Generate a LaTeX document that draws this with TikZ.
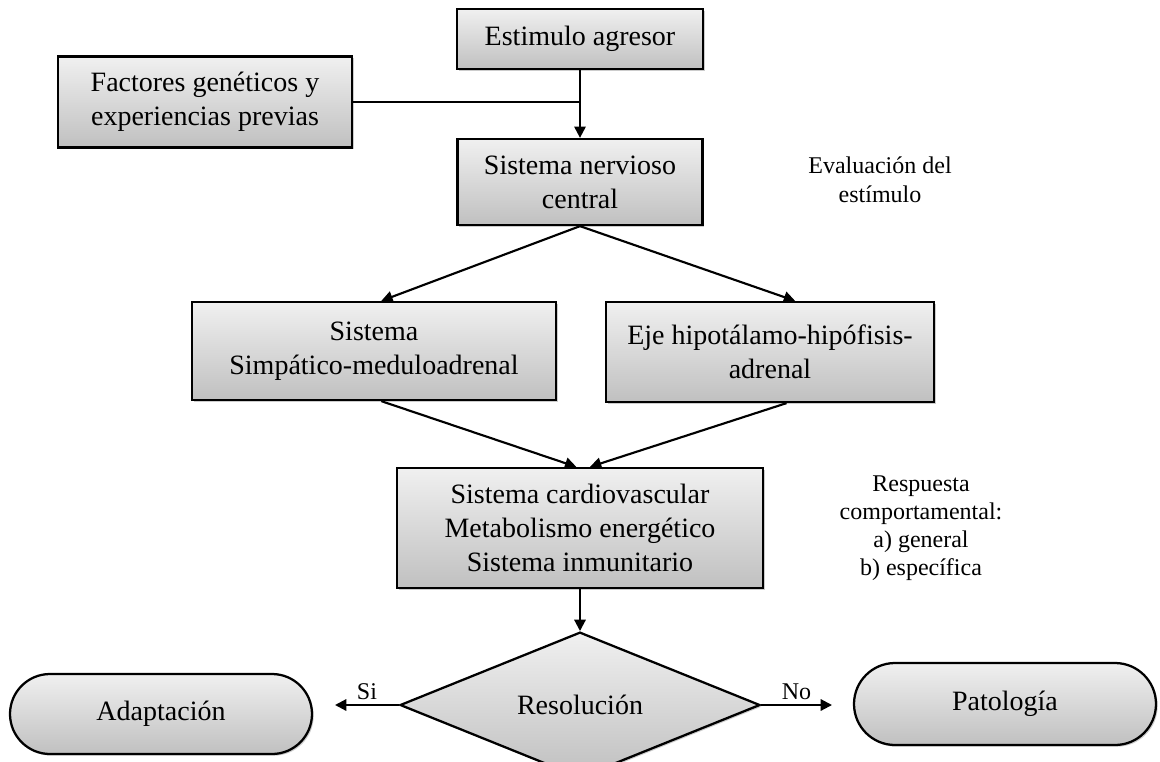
\documentclass[tikz,border=0pt]{standalone}
\usepackage{fontspec}
\setmainfont{Liberation Serif}
\usetikzlibrary{shapes.geometric,shapes.misc,arrows.meta,shadows,calc}
\definecolor{gtop}{RGB}{240,240,240}
\definecolor{gbot}{RGB}{192,192,192}
\tikzset{
  shaded/.style={draw=black, line width=1.7pt, top color=gtop, bottom color=gbot,
    drop shadow={shadow xshift=1.3pt,shadow yshift=-1.3pt,fill=black!40,opacity=0.5},
    align=center, font=\fontsize{21}{25.5}\selectfont, inner sep=0pt},
  box/.style={shaded, rectangle},
  term/.style={shaded, rounded rectangle},
  decis/.style={shaded, diamond},
  note/.style={align=center, font=\fontsize{18}{22}\selectfont, inner sep=0pt},
  lbl/.style={font=\fontsize{18}{22}\selectfont, inner sep=0pt},
  conn/.style={line width=1.6pt, draw=black},
  arr/.style={conn, -{Triangle[length=8.5pt,width=8.5pt]}}
}
\begin{document}
\begin{tikzpicture}[x=0.75pt,y=-0.75pt]
\useasboundingbox (0,0) rectangle (1160,761);

\node[box, minimum width=184.5pt, minimum height=45pt] (est) at (580,39) {Estimulo agresor};
\node[box, minimum width=220.5pt, minimum height=68.25pt] (fac) at (205,102) {Factores genéticos y\\experiencias previas};
\node[box, minimum width=183.75pt, minimum height=64.5pt] (snc) at (580,182) {Sistema nervioso\\central};
\node[note] (eval) at (880,180) {Evaluación del\\estímulo};
\node[box, minimum width=273pt, minimum height=73.5pt] (sim) at (374,351) {Sistema\\Simpático-meduloadrenal};
\node[box, minimum width=246pt, minimum height=75pt] (eje) at (770,352) {Eje hipotálamo-hipófisis-\\adrenal};
\node[box, minimum width=274.5pt, minimum height=90pt] (car) at (580,528) {Sistema cardiovascular\\Metabolismo energético\\Sistema inmunitario};
\node[note, font=\fontsize{18}{21}\selectfont] (resp) at (921,528) {Respuesta\\comportamental:\\a) general\\b) específica};
\node[decis, minimum width=270pt, minimum height=84pt] (res) at (580,705) {Resolución};
\node[term, minimum width=226.5pt, minimum height=60pt] (ada) at (161,714) {Adaptación};
\node[term, minimum width=226.5pt, minimum height=61.5pt] (pat) at (1005,704) {Patología};

\coordinate (j) at (est.south |- fac.east);
\draw[conn] (fac.east) -- (j);
\draw[arr] (est.south) -- (snc.north);

\draw[arr] (snc.south) -- ($(sim.north west)!0.52!(sim.north east)$);
\draw[arr] (snc.south) -- ($(eje.north west)!0.576!(eje.north east)$);

\draw[arr] ($(sim.south west)!0.52!(sim.south east)$) -- ($(car.north west)!0.49!(car.north east)$);
\draw[arr] ($(eje.south west)!0.55!(eje.south east)$) -- ($(car.north west)!0.527!(car.north east)$);

\draw[arr] (car.south) -- (res.north);

\coordinate (siend) at (335,705);
\coordinate (noend) at (832,705);
\draw[arr] (res.west) -- (siend) node[lbl, midway, above=3pt] (si) {Si};
\draw[arr] (res.east) -- (noend) node[lbl, midway, above=3pt] (no) {No};
\end{tikzpicture}
\end{document}
